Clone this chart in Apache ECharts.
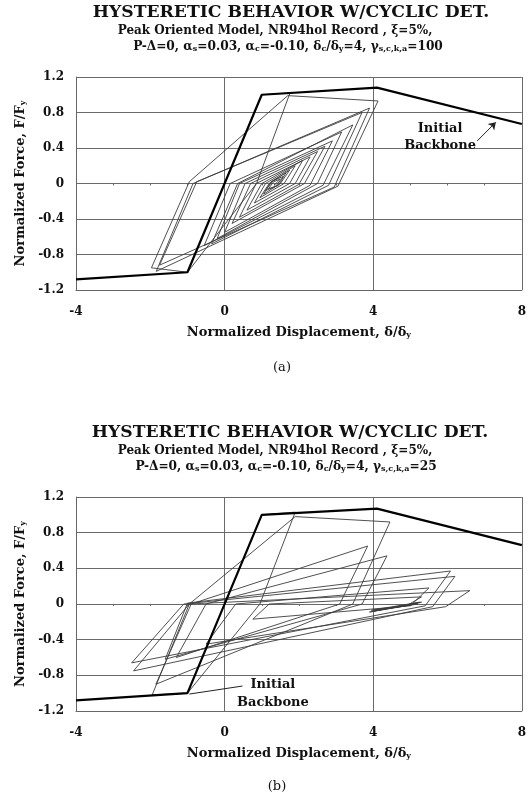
<!DOCTYPE html>
<html><head><meta charset="utf-8">
<script src="https://cdn.jsdelivr.net/npm/echarts@6/dist/echarts.min.js"></script>
<style>html,body{margin:0;padding:0;background:#fff}#c{width:529px;height:799px}</style>
</head><body><div id="c"></div>
<script>
// ---- data ----
const xTicks = [-4, 0, 4, 8];
const yTicks = [-1.2, -0.8, -0.4, 0, 0.4, 0.8, 1.2];
const backboneA = [[-4,-1.08],[-1,-1.0],[1,1.0],[4.1,1.08],[8,0.67]];
const backboneB = [[-4,-1.08],[-1,-1.0],[1,1.0],[4.1,1.07],[8,0.66]];
const loopsA = [
 [0,0],[1.0,1.0],[1.76,1.02],
 [0.86,0.0],[-1.0,-1.0],[-1.97,-0.95],
 [-0.95,0.02],[1.7,0.99],[4.13,0.93],
 [3.05,-0.03],[-1.84,-0.99],
 [-0.85,0.0],[3.9,0.85],
 [2.95,-0.04],[-1.75,-0.92],
 [-0.75,0.02],[3.7,0.8],
 [2.8,-0.02],[-0.35,-0.68],
 [0.35,0.0],[3.45,0.66],
 [2.65,-0.02],[-0.55,-0.7],
 [0.15,0.0],[3.15,0.58],
 [2.5,0.0],[-0.2,-0.62],
 [0.4,0.0],[2.9,0.48],
 [2.3,-0.02],[0.0,-0.55],
 [0.55,0.0],[2.7,0.42],
 [2.15,0.0],[0.2,-0.45],
 [0.7,0.0],[2.5,0.36],
 [2.0,-0.01],[0.4,-0.38],
 [0.85,0.0],[2.3,0.3],
 [1.9,0.0],[0.6,-0.3],
 [1.0,0.0],[2.1,0.26],
 [1.75,0.0],[0.8,-0.22],
 [1.1,0.0],[1.9,0.2],
 [1.6,0.0],[0.95,-0.16],
 [1.2,0.0],[1.75,0.15],
 [1.5,0.0],[1.05,-0.12],
 [1.25,0.02],[1.65,0.12],
 [1.45,-0.02],[1.1,-0.08],
 [1.3,0.03],[1.58,0.08],
 [1.38,-0.03],[1.18,-0.06],
 [1.32,0.02],[1.5,0.05],[1.33,-0.02],[1.38,0.0]
];
const loopsB = [
 [0,0],[1.0,1.0],[1.9,1.03],
 [0.95,0.0],[-1.0,-1.0],[-1.95,-1.02],
 [-0.95,0.0],[1.9,0.98],[4.45,0.92],
 [3.45,0.0],[-1.85,-0.9],
 [-0.9,0.0],[3.85,0.65],
 [3.1,0.0],[-1.3,-0.6],
 [-0.5,0.0],[4.37,0.54],
 [3.7,0.0],[-1.6,-0.62],
 [-1.0,0.01],[6.08,0.37],
 [5.4,-0.02],[-2.5,-0.66],
 [-1.1,0.0],[6.2,0.31],
 [5.6,-0.03],[-2.45,-0.75],
 [-0.95,0.0],[6.6,0.15],
 [5.95,-0.03],[-0.5,-0.45],
 [0.3,0.0],[5.5,0.18],
 [5.0,-0.02],[0.76,-0.17],
 [1.2,0.0],[5.3,0.08],
 [4.9,-0.02],[3.9,-0.09],[5.3,0.02],[4.0,-0.08],[5.25,0.02],[3.95,-0.07],
 [5.2,0.0],[4.1,-0.07],[5.1,0.0],[4.2,-0.06],[5.0,-0.01],[4.4,-0.05]
];
const titleText = 'HYSTERETIC BEHAVIOR W/CYCLIC DET.';
const subText1 = 'Peak Oriented Model, NR94hol Record , ξ=5%,';
const subText2A = 'P-Δ=0, α{s|s}=0.03, α{s|c}=-0.10, δ{s|c}/δ{s|y}=4, γ{s|s,c,k,a}=100';
const subText2B = 'P-Δ=0, α{s|s}=0.03, α{s|c}=-0.10, δ{s|c}/δ{s|y}=4, γ{s|s,c,k,a}=25';
const xName = 'Normalized Displacement, δ/δ{s|y}';
const yName = 'Normalized Force, F/F{s|y}';
const panelLabels = ['(a)', '(b)'];
const annoWords = ['Initial', 'Backbone'];
// annotation anchor points (data coords)
const annoA = {text1:[5.8,0.62], text2:[5.8,0.43], from:[6.8,0.48], to:[7.3,0.69]};
const annoB = {text1:[1.3,-0.9], text2:[1.3,-1.11], from:[0.48,-0.92], to:[-0.95,-1.01]};

// ---- chart ----
const SERIF = '"DejaVu Serif","Liberation Serif",serif';
const chart = echarts.init(document.getElementById('c'), null, {renderer:'canvas'});
const fmtY = v => Math.abs(v) < 1e-9 ? '0' : v.toFixed(1);
const subRichE = {s:{fontSize:8, fontWeight:'bold', fontFamily:SERIF, color:'#111', verticalAlign:'bottom', padding:[4,0,0,0]}};
const grids = [{left:76, right:6, top:77, height:213}, {left:76, right:6, top:497, height:214}];
function xAx(g){ return {gridIndex:g, type:'value', min:xTicks[0], max:xTicks[xTicks.length-1], interval:xTicks[1]-xTicks[0],
  axisLine:{show:true, onZero:false, lineStyle:{color:'#666'}}, axisTick:{show:false},
  axisLabel:{margin:16, fontFamily:SERIF, fontWeight:'bold', fontSize:12, color:'#111'},
  splitLine:{show:true, lineStyle:{color:'#6a6a6a', width:1}},
  name:xName, nameLocation:'middle', nameGap:36,
  nameTextStyle:{fontFamily:SERIF, fontWeight:'bold', fontSize:13, color:'#111', rich:subRichE}}; }
function xMinor(g){ return {gridIndex:g, type:'value', min:xTicks[0], max:xTicks[xTicks.length-1], interval:1, position:'bottom',
  axisLine:{show:false, onZero:true}, axisTick:{show:true, length:2, lineStyle:{color:'#666'}},
  axisLabel:{show:false}, splitLine:{show:false}}; }
function yAx(g){ return {gridIndex:g, type:'value', min:yTicks[0], max:yTicks[yTicks.length-1], interval:0.4,
  axisLine:{show:true, onZero:false, lineStyle:{color:'#666'}}, axisTick:{show:false},
  axisLabel:{margin:12, fontFamily:SERIF, fontWeight:'bold', fontSize:12, color:'#111', formatter:fmtY},
  splitLine:{show:true, lineStyle:{color:'#6a6a6a', width:1}},
  name:yName, nameLocation:'middle', nameGap:46,
  nameTextStyle:{fontFamily:SERIF, fontWeight:'bold', fontSize:13, color:'#111', rich:subRichE}}; }
function loopSeries(data, xi, yi){ return {type:'line', xAxisIndex:xi, yAxisIndex:yi, data:data, showSymbol:false, symbol:'none',
  lineStyle:{color:'#3c3c3c', width:0.9}, z:2, silent:true}; }
function bbSeries(data, xi, yi, anno, withArrow){ return {type:'line', xAxisIndex:xi, yAxisIndex:yi, data:data, showSymbol:false, symbol:'none',
  lineStyle:{color:'#000', width:2.2}, z:3, silent:true,
  markLine:{silent:true, symbol: withArrow ? ['none','arrow'] : ['none','none'], symbolSize:7, label:{show:false},
    lineStyle:{color:'#222', width:1, type:'solid'},
    data:[[{coord:anno.from},{coord:anno.to}]]}}; }
chart.setOption({
  animation:false,
  backgroundColor:'#fff',
  grid:grids.map(g => Object.assign({show:false, containLabel:false}, g)),
  xAxis:[xAx(0), xAx(1), xMinor(0), xMinor(1)],
  yAxis:[yAx(0), yAx(1)],
  series:[loopSeries(loopsA,0,0), bbSeries(backboneA,0,0,annoA,true),
          loopSeries(loopsB,1,1), bbSeries(backboneB,1,1,annoB,false),
          {type:'line', xAxisIndex:2, yAxisIndex:0, data:[], silent:true},
          {type:'line', xAxisIndex:3, yAxisIndex:1, data:[], silent:true}]
});
const px = (g, pt) => chart.convertToPixel({gridIndex:g}, pt);
const subRichZ = {s:{font:'bold 8px '+SERIF, fill:'#111', verticalAlign:'bottom', padding:[4,0,0,0]}};
function txt(text, x, y, font, rich){ return {type:'text', silent:true, style:{text:text, x:x, y:y, font:font, fill:'#111', align:'center', verticalAlign:'middle', rich:rich}}; }
const g = [];
const titleY = [[13,31,47],[433,451,467]];
const titleX = [[291,275,288],[290,275,286]];
[subText2A, subText2B].forEach((s2, i) => {
  g.push(txt(titleText, titleX[i][0], titleY[i][0], 'bold 17.2px '+SERIF));
  g.push(txt(subText1, titleX[i][1], titleY[i][1], 'bold 12px '+SERIF));
  g.push(txt(s2, titleX[i][2], titleY[i][2], 'bold 12.2px '+SERIF, subRichZ));
});
g.push(txt(panelLabels[0], 282, 368, '13px '+SERIF));
g.push(txt(panelLabels[1], 277, 787, '13px '+SERIF));
[[annoA,0],[annoB,1]].forEach(([a, gi]) => {
  const p1 = px(gi, a.text1), p2 = px(gi, a.text2);
  g.push(txt(annoWords[0], p1[0], p1[1], 'bold 13px '+SERIF));
  g.push(txt(annoWords[1], p2[0], p2[1], 'bold 13px '+SERIF));
});
chart.setOption({graphic:g});
</script></body></html>
